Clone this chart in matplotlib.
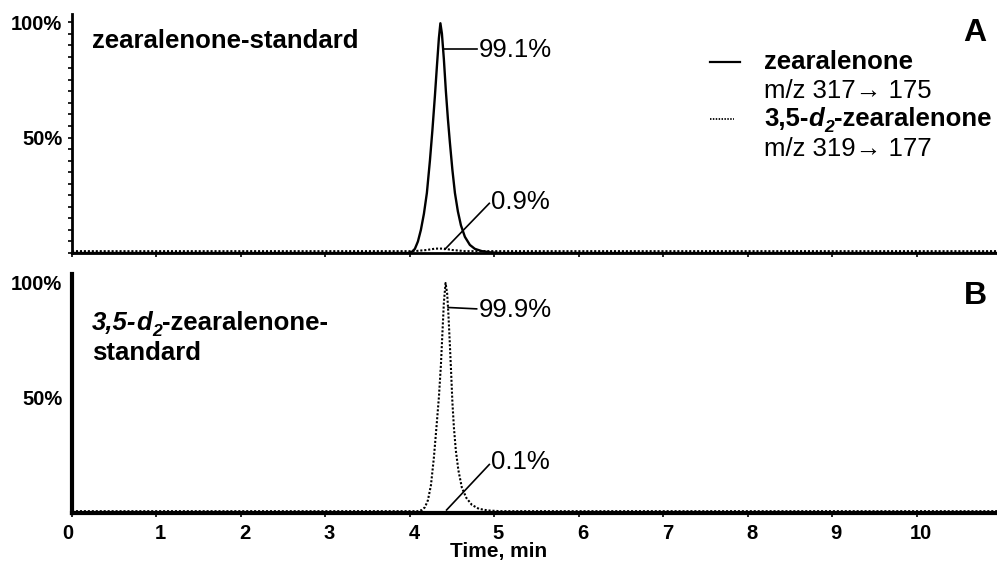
import matplotlib
matplotlib.use("Agg")
import matplotlib.pyplot as plt
from matplotlib.transforms import offset_copy, ScaledTranslation
from matplotlib.lines import Line2D

plt.rcParams['font.family'] = ['Liberation Sans', 'DejaVu Sans']

# ---------------- data ----------------
x_ticks = [0, 1, 2, 3, 4, 5, 6, 7, 8, 9, 10]
x_max = 10.95

# Panel A: zearalenone standard
time_A_zea = [0, 3.976, 4.024, 4.059, 4.095, 4.130, 4.166, 4.201, 4.237, 4.266, 4.296,
              4.320, 4.343, 4.361, 4.379, 4.402, 4.426, 4.450, 4.473, 4.503, 4.533,
              4.568, 4.604, 4.651, 4.710, 4.769, 4.852, 4.947, 5.065, 10.95]
int_A_zea = [0, 0, 0.5, 1.8, 5, 10, 17, 26, 40, 53, 68,
             81, 93, 99.5, 95, 84, 70, 58, 48, 36, 26,
             18, 12, 7, 3.5, 1.8, 0.8, 0.3, 0, 0]
time_A_d2 = [0, 4.05, 4.20, 4.30, 4.40, 4.50, 4.65, 10.95]
int_A_d2 = [0.8, 0.8, 1.3, 1.9, 1.9, 1.3, 0.8, 0.8]

# Panel B: 3,5-d2-zearalenone standard
time_B_d2 = [0, 4.095, 4.142, 4.178, 4.213, 4.249, 4.284, 4.314, 4.343, 4.367, 4.385,
             4.402, 4.422, 4.441, 4.456, 4.473, 4.489, 4.503, 4.521, 4.544, 4.574,
             4.615, 4.669, 4.734, 4.817, 4.923, 5.065, 10.95]
int_B_d2 = [0.8, 0.8, 1.3, 2.5, 5.5, 12, 24, 37, 50, 64, 78,
            91, 99.6, 95, 86, 73, 60, 48, 37, 27, 18.5,
            11, 6.5, 3.5, 1.8, 1.1, 0.8, 0.8]
time_B_zea = [0, 10.95]
int_B_zea = [0, 0]

labels_A = ["99.1%", "0.9%"]
labels_B = ["99.9%", "0.1%"]
y_tick_vals = [50, 100]
y_tick_labels = ["50%", "100%"]

# ---------------- figure ----------------
W, H = 997, 562
fig = plt.figure(figsize=(W / 100, H / 100), dpi=100)


def fx(px):
    return px / W


def fy(py):
    return 1 - py / H


axA = fig.add_axes([fx(72), fy(253), 1 - fx(72), fy(14) - fy(253)])
axB = fig.add_axes([fx(72), fy(513), 1 - fx(72), fy(274) - fy(513)])

dot = (0, (1, 0.9))
for ax in (axA, axB):
    ax.set_xlim(0, x_max)
    ax.set_ylim(0, 103.5)
    for s in ("top", "right"):
        ax.spines[s].set_visible(False)
    ax.set_xticks(x_ticks)
    ax.tick_params(axis='x', direction='out', length=3, width=1.2, pad=5)
    ax.set_yticks(y_tick_vals)
    ax.set_yticklabels(y_tick_labels, fontsize=14.5, fontweight='bold')
    ax.patch.set_alpha(0)

# Panel A
axA.plot(time_A_zea, int_A_zea, color='black', lw=1.7, clip_on=False, zorder=4)
axA.plot(time_A_d2, int_A_d2, color='black', lw=1.5, ls=dot, clip_on=False, zorder=3)
axA.spines['left'].set_linewidth(2.0)
axA.spines['bottom'].set_linewidth(2.0)
axA.set_xticklabels([])
axA.set_yticks(list(range(0, 105, 5)), minor=True)
axA.tick_params(axis='y', which='both', direction='out', length=3, width=1.2, pad=4)

# Panel B
axB.plot(time_B_zea, int_B_zea, color='black', lw=2.0, clip_on=False, zorder=4)
axB.plot(time_B_d2, int_B_d2, color='black', lw=1.5, ls=dot, clip_on=False, zorder=3)
axB.spines['left'].set_linewidth(3.0)
axB.spines['bottom'].set_linewidth(3.0)
axB.tick_params(axis='y', length=0, pad=7)
axB.set_xticklabels([str(v) for v in x_ticks], fontsize=14.5, fontweight='bold')
for i, lbl in enumerate(axB.get_xticklabels()):
    dx = -4 if i == 0 else 4
    lbl.set_transform(lbl.get_transform() + ScaledTranslation(dx / 100, 0, fig.dpi_scale_trans))

fig.text(fx(499), fy(551), "Time, min", fontsize=15, fontweight='bold', ha='center', va='center')

FS = 18.5


# peak annotations
def annot(ax, x0, y0, x1, y1, tx, ty, s):
    ax.plot([x0, x1], [y0, y1], color='black', lw=1.2, clip_on=False, zorder=5)
    ax.text(tx, ty, s, fontsize=FS, ha='left', va='center')


annot(axA, 4.39, 88.3, 4.79, 88.3, 4.81, 88.0, labels_A[0])
annot(axA, 4.414, 1.6, 4.94, 21.5, 4.96, 22.0, labels_A[1])
annot(axB, 4.453, 89.0, 4.79, 88.4, 4.81, 88.0, labels_B[0])
annot(axB, 4.434, 1.3, 4.94, 21.0, 4.96, 22.0, labels_B[1])

# panel letters and titles
fig.text(fx(975), fy(41), "A", fontsize=23, fontweight='bold', ha='center', va='baseline')
fig.text(fx(975), fy(304), "B", fontsize=23, fontweight='bold', ha='center', va='baseline')
fig.text(fx(92), fy(48), "zearalenone-standard", fontsize=FS, fontweight='bold', va='baseline')

renderer = fig.canvas.get_renderer()


def rich(px, py, runs):
    off = 0.0
    for txt, weight, style, dy, scale in runs:
        tr = offset_copy(fig.transFigure, fig=fig, x=off, y=dy, units='points')
        t = fig.text(fx(px), fy(py), txt, transform=tr, fontsize=FS * scale,
                     fontweight=weight, fontstyle=style, va='baseline', ha='left')
        bb = t.get_window_extent(renderer)
        off += bb.width * 72.0 / fig.dpi


rich(92, 330, [("3,5-", 'bold', 'italic', 0, 1.0),
               ("d", 'bold', 'italic', 0, 1.0),
               ("2", 'bold', 'italic', -4.5, 0.68),
               ("-zearalenone-", 'bold', 'normal', 0, 1.0)])
fig.text(fx(92), fy(360), "standard", fontsize=FS, fontweight='bold', va='baseline')

# legend
fig.add_artist(Line2D([fx(710), fx(740)], [fy(62), fy(62)], color='black', lw=1.6))
fig.add_artist(Line2D([fx(710), fx(734)], [fy(119), fy(119)], color='black', lw=1.3,
                      ls=(0, (0.8, 0.8))))
fig.text(fx(764), fy(69), "zearalenone", fontsize=FS, fontweight='bold', va='baseline')
fig.text(fx(764), fy(98), "m/z 317\u2192 175", fontsize=FS, va='baseline')
rich(764, 126, [("3,5-", 'bold', 'normal', 0, 1.0),
                ("d", 'bold', 'italic', 0, 1.0),
                ("2", 'bold', 'italic', -4.5, 0.68),
                ("-zearalenone", 'bold', 'normal', 0, 1.0)])
fig.text(fx(764), fy(156), "m/z 319\u2192 177", fontsize=FS, va='baseline')

fig.savefig("out.png", dpi=100)
